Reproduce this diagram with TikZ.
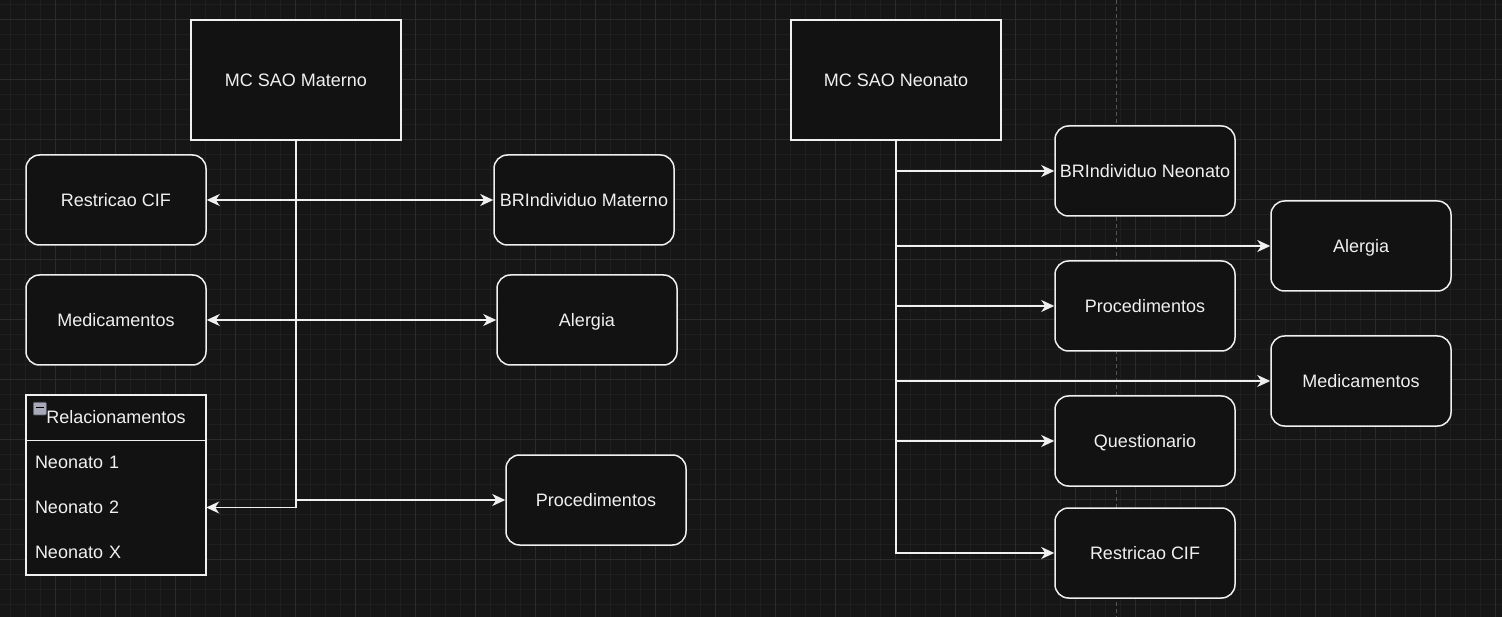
\documentclass[tikz,border=0pt]{standalone}
\usepackage{fontspec}
\setmainfont{Liberation Sans}
\usetikzlibrary{arrows.meta}
\definecolor{bg}{HTML}{161616}
\definecolor{minorgrid}{HTML}{1F1F1F}
\definecolor{majorgrid}{HTML}{2B2B2B}
\definecolor{boxfill}{HTML}{121212}
\definecolor{ink}{HTML}{F0F0F0}
\definecolor{pagebreak}{HTML}{555555}
\definecolor{iconfill}{HTML}{A7A9B8}
\definecolor{iconedge}{HTML}{5A5C68}
\tikzset{
  base/.style={draw=ink, line width=1.5pt, fill=boxfill, text=ink,
    font=\fontsize{18}{21}\selectfont, inner sep=0pt, text height=12.9pt, text depth=0pt},
  mainbox/.style={base, minimum width=210pt, minimum height=120pt},
  rbox/.style={base, rounded corners=13.5pt, minimum width=180pt, minimum height=90pt},
  txt/.style={text=ink, font=\fontsize{18}{21}\selectfont, inner sep=0pt, text height=12.9pt, text depth=0pt},
  rowtext/.style={txt, text width=162pt, align=left, minimum height=45pt, inner xsep=9pt},
  conn/.style={draw=ink, line width=1.5pt, -{Stealth[length=13pt,width=12pt,inset=4pt]}},
  dconn/.style={draw=ink, line width=1.5pt, {Stealth[length=13pt,width=12pt,inset=4pt]}-{Stealth[length=13pt,width=12pt,inset=4pt]}}
}
\begin{document}
\begin{tikzpicture}[x=1pt,y=-1pt]
\useasboundingbox (0,0) rectangle (1502,617);
\fill[bg] (0,0) rectangle (1502,617);
% grid
\foreach \i in {0,...,100} {
  \draw[minorgrid, line width=1pt] ({10.7+15*\i},0) -- ({10.7+15*\i},617);
}
\foreach \j in {0,...,41} {
  \draw[minorgrid, line width=1pt] (0,{4.3+15*\j}) -- (1502,{4.3+15*\j});
}
\foreach \i in {0,...,25} {
  \draw[majorgrid, line width=1pt] ({55.7+60*\i},0) -- ({55.7+60*\i},617);
}
\foreach \j in {0,...,10} {
  \draw[majorgrid, line width=1pt] (0,{19.3+60*\j}) -- (1502,{19.3+60*\j});
}
\draw[pagebreak, line width=1pt, dash pattern=on 4pt off 3pt] (1116.7,0) -- (1116.7,617);

% ---------- left diagram ----------
\node[mainbox] (mcM) at (296,80) {MC SAO Materno};
\node[rbox] (restrL) at (116,200) {Restricao CIF};
\node[rbox] (brM) at (584,200) {BRIndividuo Materno};
\node[rbox] (medL) at (116,320) {Medicamentos};
\node[rbox] (alerL) at (587,320) {Alergia};
\node[rbox] (procL) at (596,500) {Procedimentos};

% Relacionamentos container
\node[base, minimum width=180pt, minimum height=180pt] (rel) at (116,485) {};
\draw[ink, line width=1.5pt] (26,440.5) -- (206,440.5);
\node[txt] (relhead) at (116,417.5) {Relacionamentos};
\fill[iconfill, rounded corners=1pt] (33.3,402.3) rectangle (46.3,415);
\draw[iconedge, line width=0.6pt, rounded corners=1pt] (33.3,402.3) rectangle (46.3,415);
\draw[black, line width=1.6pt] (36,407.5) -- (43.6,407.5);
\node[rowtext] (n1) at (116,462.5) {Neonato 1};
\node[rowtext] (n2) at (116,507.5) {Neonato 2};
\node[rowtext] (nx) at (116,552.5) {Neonato X};

\draw[dconn] (restrL) -- (brM);
\draw[dconn] (medL) -- (alerL);
\draw[conn] (mcM.south) |- (procL.west);
\draw[conn] (mcM.south) |- (n2.east);

% ---------- right diagram ----------
\node[mainbox] (mcN) at (896,80) {MC SAO Neonato};
\node[rbox] (brN) at (1145,171) {BRIndividuo Neonato};
\node[rbox] (alerR) at (1361,246) {Alergia};
\node[rbox] (procR) at (1145,306) {Procedimentos};
\node[rbox] (medR) at (1361,381) {Medicamentos};
\node[rbox] (quest) at (1145,441) {Questionario};
\node[rbox] (restrR) at (1145,553) {Restricao CIF};

\draw[conn] (mcN.south) |- (brN.west);
\draw[conn] (mcN.south) |- (alerR.west);
\draw[conn] (mcN.south) |- (procR.west);
\draw[conn] (mcN.south) |- (medR.west);
\draw[conn] (mcN.south) |- (quest.west);
\draw[conn] (mcN.south) |- (restrR.west);
\end{tikzpicture}
\end{document}
